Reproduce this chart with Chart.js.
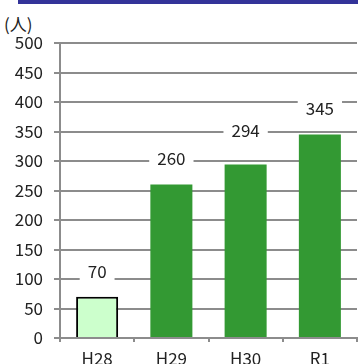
<!DOCTYPE html>
<html>
<head>
<meta charset="utf-8">
<script src="https://cdn.jsdelivr.net/npm/chart.js@4"></script>
<style>
    html, body { margin: 0; padding: 0; background: #fff; }
    #wrap { position: relative; width: 358px; height: 364px; overflow: hidden; }
    #topBar { position: absolute; left: 18px; top: 0; width: 340px; height: 4px; background: #333399; }
    #unit { position: absolute; left: 4px; top: 12px; font: 17px "Noto Sans CJK JP", sans-serif; color: #222; line-height: 24px; }
    canvas { position: absolute; left: 0; top: 0; }
</style>
</head>
<body>
<div id="wrap">
    <div id="topBar"></div>
    <div id="unit">(人)</div>
    <canvas id="chart" width="358" height="364"></canvas>
</div>
<script>
// --- Dados ---
const categories = ['H28', 'H29', 'H30', 'R1'];
const people = [70, 260, 294, 345];
const yTicks = [0, 50, 100, 150, 200, 250, 300, 350, 400, 450, 500];

const FONT = '"Noto Sans CJK JP", sans-serif';
const GRID = '#8c8c8c';
const TEXT = '#222';

// rótulos de valor com fundo branco acima das barras
const valueLabels = {
    id: 'valueLabels',
    afterDatasetsDraw(chart, args, opts) {
        const ctx = chart.ctx;
        const meta = chart.getDatasetMeta(0);
        ctx.save();
        ctx.font = '17px ' + FONT;
        ctx.textAlign = 'center';
        ctx.textBaseline = 'middle';
        meta.data.forEach((bar, i) => {
            const text = String(people[i]);
            const y = bar.y - opts.lift[i];
            const w = ctx.measureText(text).width + 16;
            ctx.fillStyle = '#fff';
            ctx.fillRect(bar.x - w / 2, y - 10, w, 20);
            ctx.fillStyle = TEXT;
            ctx.fillText(text, bar.x, y);
        });
        ctx.restore();
    }
};

new Chart(document.getElementById('chart'), {
    type: 'bar',
    data: {
        labels: categories,
        datasets: [{
            data: people,
            backgroundColor: ['#ccffcc', '#339933', '#339933', '#339933'],
            borderColor: ['#000', '#339933', '#339933', '#339933'],
            borderWidth: [2, 0, 0, 0],
            barPercentage: 0.566,
            categoryPercentage: 1
        }]
    },
    options: {
        responsive: false,
        animation: false,
        layout: { padding: { top: 43, right: 1, left: 0, bottom: 0 } },
        plugins: {
            legend: { display: false },
            tooltip: { enabled: false },
            valueLabels: { lift: [25, 26, 34, 26] }
        },
        scales: {
            x: {
                offset: true,
                grid: { display: true, drawOnChartArea: false, drawTicks: true, tickLength: 4, color: GRID, lineWidth: 2 },
                border: { display: true, color: GRID, width: 2 },
                ticks: { color: TEXT, font: { family: FONT, size: 17 }, padding: 6 },
                afterFit(scale) { scale.height = 26; }
            },
            y: {
                min: 0,
                max: 500,
                afterBuildTicks(scale) { scale.ticks = yTicks.map(v => ({ value: v })); },
                grid: { color: GRID, lineWidth: 2, tickLength: 6 },
                border: { display: true, color: GRID, width: 2 },
                ticks: { color: TEXT, font: { family: FONT, size: 17 }, padding: 11 },
                afterFit(scale) { scale.width = 60; }
            }
        }
    },
    plugins: [valueLabels]
});
</script>
</body>
</html>
